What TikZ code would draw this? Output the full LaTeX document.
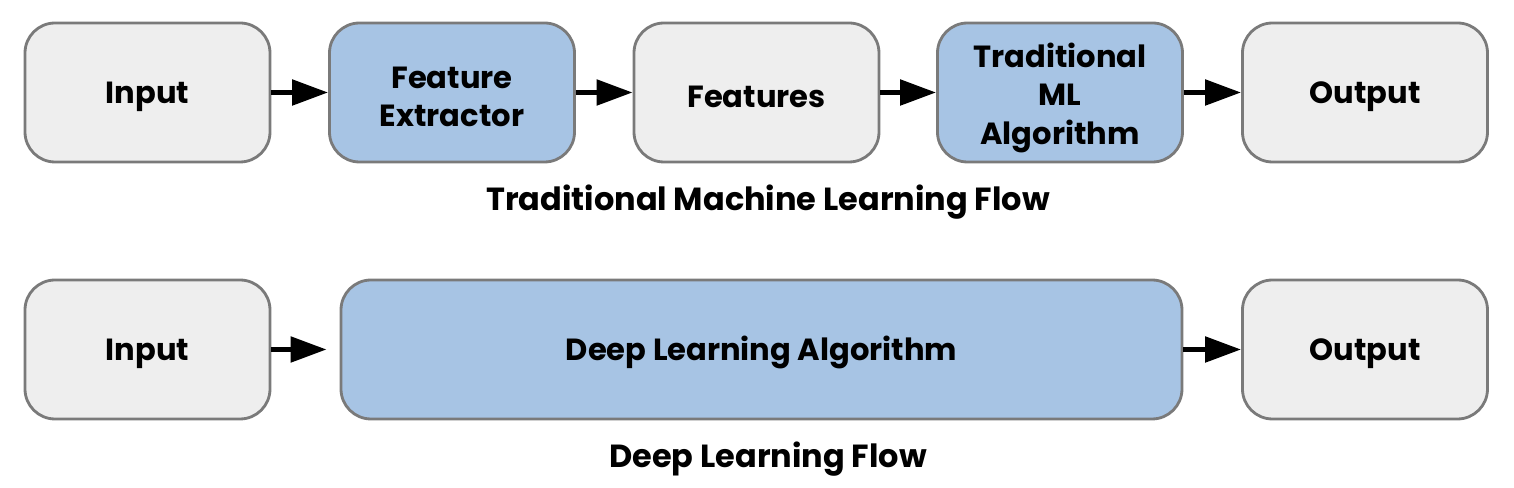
\documentclass[tikz,border=0pt]{standalone}
\usepackage{xcolor}
\usepackage{fontspec}
\setmainfont{Poppins}
\usetikzlibrary{arrows.meta}

\definecolor{boxgray}{HTML}{EEEEEE}
\definecolor{boxblue}{HTML}{A7C4E4}
\definecolor{edgegray}{HTML}{7A7A7A}

\tikzset{
	plainbox/.style = {draw=edgegray, line width=0.8pt, fill=boxgray, rounded corners=3mm,
		minimum width=2.45cm, minimum height=1.39cm, align=center, inner ysep=0.5mm,
		execute at begin node={\rule{0pt}{#1}},
		font=\fontsize{8.7}{10.9}\selectfont\bfseries},
	plainbox/.default = 3.1mm,
	algobox/.style = {plainbox=#1, fill=boxblue},
	algobox/.default = 3.1mm,
	flowarrow/.style = {line width=1.5pt, -{Triangle[length=3.6mm,width=2.5mm]}},
	caption/.style = {font=\fontsize{9.1}{11}\selectfont\bfseries}
}

\begin{document}
\begin{tikzpicture}
	\useasboundingbox (0,0) rectangle (15.14,4.88);
	
	% traditional machine learning flow
	\node[plainbox] (input1) at (1.475,3.955) {Input};
	\node[algobox=6.8mm] (extractor) at (4.52,3.955) {Feature\\Extractor};
	\node[plainbox] (features) at (7.565,3.955) {Features};
	\node[algobox=11.2mm] (mlalgo) at (10.60,3.955) {Traditional\\ML\\Algorithm};
	\node[plainbox] (output1) at (13.65,3.955) {Output};
	\node[caption] (caption1) at (7.68,2.86) {Traditional Machine Learning Flow};
	
	\draw[flowarrow] (input1) -- (extractor);
	\draw[flowarrow] (extractor) -- (features);
	\draw[flowarrow] (features) -- (mlalgo);
	\draw[flowarrow] (mlalgo) -- (output1);
	
	% deep learning flow
	\node[plainbox] (input2) at (1.475,1.385) {Input};
	\node[algobox, minimum width=8.41cm] (dlalgo) at (7.615,1.385) {Deep Learning Algorithm};
	\node[plainbox] (output2) at (13.65,1.385) {Output};
	\node[caption] (caption2) at (7.68,0.29) {Deep Learning Flow};
	
	\draw[flowarrow, shorten >=1.3mm] (input2) -- (dlalgo);
	\draw[flowarrow] (dlalgo) -- (output2);
\end{tikzpicture}
\end{document}
